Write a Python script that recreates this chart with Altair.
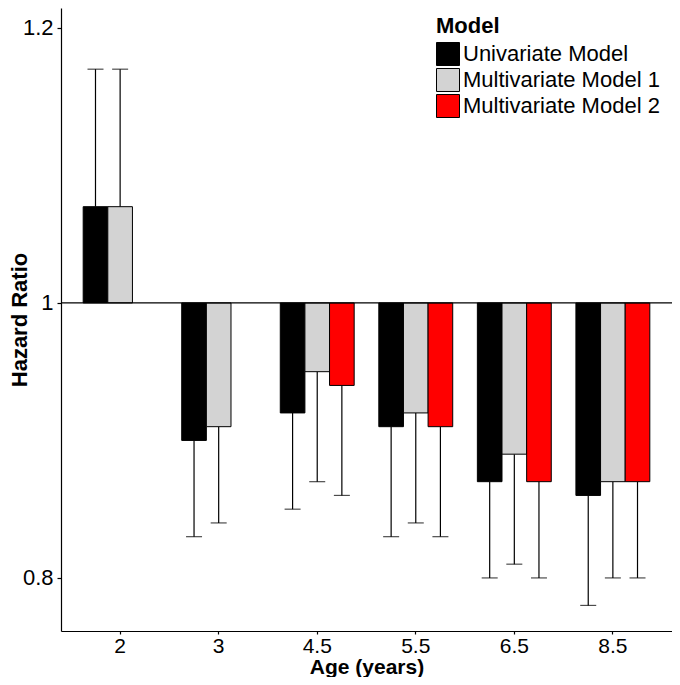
import altair as alt
import pandas as pd

ages = ["2", "3", "4.5", "5.5", "6.5", "8.5"]
models = ["Univariate Model", "Multivariate Model 1", "Multivariate Model 2"]
colors = ["#000000", "#D3D3D3", "#FF0000"]

hr_uni = [1.07, 0.90, 0.92, 0.91, 0.87, 0.86]
ci_uni = [1.17, 0.83, 0.85, 0.83, 0.80, 0.78]
hr_m1 = [1.07, 0.91, 0.95, 0.92, 0.89, 0.87]
ci_m1 = [1.17, 0.84, 0.87, 0.84, 0.81, 0.80]
hr_m2 = [None, None, 0.94, 0.91, 0.87, 0.87]
ci_m2 = [None, None, 0.86, 0.83, 0.80, 0.80]

rows = []
for model, hrs, cis in zip(models, [hr_uni, hr_m1, hr_m2], [ci_uni, ci_m1, ci_m2]):
    for a, h, c in zip(ages, hrs, cis):
        if h is None:
            continue
        rows.append({"age": a, "model": model, "hr": h, "ci": c, "base": 1.0})
df = pd.DataFrame(rows)

FONT = "Liberation Sans"
FS = 22
FSX = 21

x_enc = alt.X("age:N", sort=ages,
              scale=alt.Scale(paddingInner=0.25, paddingOuter=0.225),
              axis=alt.Axis(title="Age (years)", labelAngle=0, labelPadding=1, tickSize=3,
                            labelFontSize=FSX, titleFontSize=FSX, titleY=25))
xoff = alt.XOffset("model:N", sort=models, scale=alt.Scale(domain=models, paddingInner=0, paddingOuter=0))
y_scale = alt.Scale(domain=[0.7614, 1.2145], nice=False, zero=False)

bars = alt.Chart(df).mark_bar(stroke="black", strokeWidth=1, opacity=1).encode(
    x=x_enc,
    xOffset=xoff,
    y=alt.Y("hr:Q", scale=y_scale,
            axis=alt.Axis(title="Hazard Ratio", values=[0.8, 1.0, 1.2], format="~g",
                          labelPadding=4, titleX=-30)),
    y2="base:Q",
    fill=alt.Fill("model:N", sort=models,
                  scale=alt.Scale(domain=models, range=colors),
                  legend=alt.Legend(title="Model", orient="none", legendX=375, legendY=8,
                                    symbolType="square", symbolSize=529,
                                    symbolStrokeColor="black", symbolStrokeWidth=1,
                                    symbolOpacity=1, labelOffset=3, rowPadding=-5.5,
                                    titlePadding=4, labelLimit=0)),
)

whisk = alt.Chart(df).mark_rule(color="black", strokeWidth=1.2).encode(
    x=x_enc, xOffset=xoff,
    y=alt.Y("ci:Q", scale=y_scale), y2="hr:Q",
)

caps = alt.Chart(df).mark_tick(color="black", thickness=1.2, size=16, orient="horizontal").encode(
    x=x_enc, xOffset=xoff,
    y=alt.Y("ci:Q", scale=y_scale),
)

hline = alt.Chart(pd.DataFrame({"y": [1.0]})).mark_rule(color="black", strokeWidth=1.2).encode(
    y=alt.Y("y:Q", scale=y_scale)
)

chart = alt.layer(whisk, caps, bars, hline).properties(
    width=611, height=623,
    padding={"left": 53, "top": 0, "right": 0, "bottom": 46},
    autosize=alt.AutoSizeParams(type="none"),
).configure_view(stroke=None).configure_axis(
    grid=False, domainColor="black", domainWidth=1.2, tickColor="black", tickWidth=1.2,
    tickSize=4, labelFont=FONT, labelFontSize=FS, labelColor="black",
    titleFont=FONT, titleFontSize=FS, titleFontWeight="bold", titleColor="black",
).configure_legend(
    titleFont=FONT, titleFontSize=FS, titleFontWeight="bold", titleColor="black",
    labelFont=FONT, labelFontSize=FS, labelColor="black",
)

chart.save("out.html", embed_options={"renderer": "svg", "actions": False})
